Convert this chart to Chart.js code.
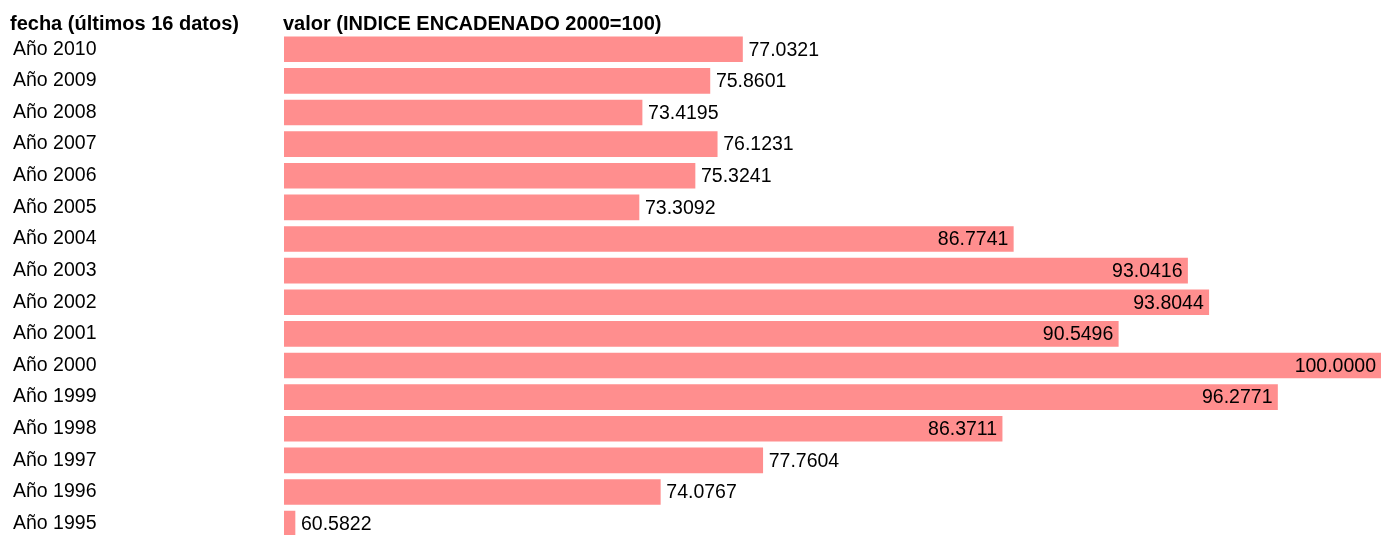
<!DOCTYPE html>
<html>
<head>
<meta charset="utf-8">
<script src="https://cdn.jsdelivr.net/npm/chart.js@4/dist/chart.umd.min.js"></script>
<style>
html,body{margin:0;padding:0;background:#fff;overflow:hidden;}
canvas{display:block;}
</style>
</head>
<body>
<canvas id="c" width="1393" height="541"></canvas>
<script>
const categories = ["Año 2010","Año 2009","Año 2008","Año 2007","Año 2006","Año 2005","Año 2004","Año 2003","Año 2002","Año 2001","Año 2000","Año 1999","Año 1998","Año 1997","Año 1996","Año 1995"];
const values = [77.0321,75.8601,73.4195,76.1231,75.3241,73.3092,86.7741,93.0416,93.8044,90.5496,100.0000,96.2771,86.3711,77.7604,74.0767,60.5822];
const headerLeft = "fecha (últimos 16 datos)";
const headerRight = "valor (INDICE ENCADENADO 2000=100)";

const FONT = '"Liberation Sans", Arial, sans-serif';
const AXIS_MIN = 60.54;
const AXIS_MAX = 100;

const labelPlugin = {
  id: 'labels',
  afterDatasetsDraw(chart) {
    const ctx = chart.ctx;
    const meta = chart.getDatasetMeta(0);
    const area = chart.chartArea;
    ctx.save();
    ctx.font = '19.5px ' + FONT;
    ctx.fillStyle = '#000';
    ctx.textBaseline = 'middle';
    meta.data.forEach((bar, i) => {
      const txt = values[i].toFixed(4);
      const w = bar.x - area.left;
      if (w > (area.right - area.left) * 0.5) {
        ctx.textAlign = 'right';
        ctx.fillText(txt, bar.x - 5, bar.y + 1);
      } else {
        ctx.textAlign = 'left';
        ctx.fillText(txt, bar.x + 6, bar.y + 1);
      }
    });
    ctx.font = 'bold 20px ' + FONT;
    ctx.textAlign = 'left';
    ctx.textBaseline = 'alphabetic';
    ctx.fillText(headerLeft, 10, 30);
    ctx.fillText(headerRight, 283, 30);
    ctx.restore();
  }
};

new Chart(document.getElementById('c'), {
  type: 'bar',
  data: {
    labels: categories,
    datasets: [{
      data: values,
      base: AXIS_MIN,
      backgroundColor: '#ff8e8e',
      borderWidth: 0,
      barThickness: 25,
      minBarLength: 11
    }]
  },
  options: {
    indexAxis: 'y',
    responsive: false,
    animation: false,
    devicePixelRatio: 1,
    layout: { padding: { left: 13, right: 12, top: 33.4, bottom: 1.6 } },
    plugins: { legend: { display: false }, tooltip: { enabled: false }, title: { display: false } },
    scales: {
      x: { display: false, min: AXIS_MIN, max: AXIS_MAX },
      y: {
        grid: { display: false, drawTicks: false },
        border: { display: false },
        afterFit(scale) { scale.width = 271; scale.paddingTop = 0; scale.paddingBottom = 0; },
        ticks: {
          crossAlign: 'far',
          padding: 0,
          color: '#000',
          font: { size: 19.5, family: FONT }
        }
      }
    }
  },
  plugins: [labelPlugin]
});
</script>
</body>
</html>
